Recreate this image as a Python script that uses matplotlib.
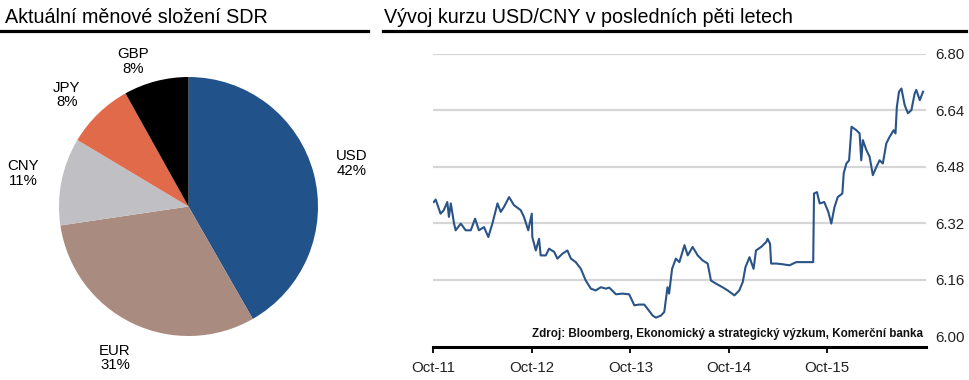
import matplotlib
matplotlib.use("Agg")
import matplotlib.pyplot as plt
import matplotlib.dates as mdates
from matplotlib.lines import Line2D
import numpy as np
import pandas as pd

plt.rcParams['font.family'] = ['Liberation Sans', 'DejaVu Sans']

# slozeni SDR (vahy v %)
currencies = ["USD", "EUR", "CNY", "JPY", "GBP"]
weights = [41.73, 30.93, 10.92, 8.33, 8.09]
pie_colors = ["#22528a", "#a98b7f", "#bfbfc4", "#e06a4a", "#000000"]

# kurz USD/CNY
dates = [
    "2011-10-04", "2011-10-11", "2011-10-29", "2011-11-10", "2011-11-23", "2011-11-29",
    "2011-12-06", "2011-12-18", "2011-12-24",
    "2012-01-12", "2012-01-30", "2012-02-18", "2012-03-05", "2012-03-19", "2012-04-07",
    "2012-04-23", "2012-05-08", "2012-05-27", "2012-06-08", "2012-06-20", "2012-07-09",
    "2012-07-27", "2012-08-21", "2012-09-02", "2012-09-18", "2012-10-01", "2012-10-03",
    "2012-10-16", "2012-10-28", "2012-11-03", "2012-11-22", "2012-12-04", "2012-12-23",
    "2013-01-04", "2013-01-23", "2013-02-10", "2013-02-23", "2013-03-13", "2013-04-01",
    "2013-04-19", "2013-05-08", "2013-05-26", "2013-06-14", "2013-07-03", "2013-07-15",
    "2013-08-09", "2013-09-02", "2013-09-27", "2013-10-16", "2013-11-03", "2013-11-22",
    "2013-12-04", "2013-12-23",
    "2014-01-04", "2014-01-23", "2014-02-04", "2014-02-16", "2014-02-22", "2014-03-05",
    "2014-03-19", "2014-04-01", "2014-04-20", "2014-05-02", "2014-05-20", "2014-06-08",
    "2014-06-26", "2014-07-15", "2014-07-27", "2014-08-15", "2014-09-08", "2014-09-27",
    "2014-10-22", "2014-11-09", "2014-11-22", "2014-12-02", "2014-12-17",
    "2015-01-01", "2015-01-10", "2015-01-29", "2015-02-17", "2015-02-22", "2015-03-03",
    "2015-03-07", "2015-03-26", "2015-04-19", "2015-05-14", "2015-06-08", "2015-07-02",
    "2015-08-10", "2015-08-13", "2015-08-24", "2015-09-03", "2015-09-20", "2015-10-05",
    "2015-10-16", "2015-10-28", "2015-11-09", "2015-11-26", "2015-12-01", "2015-12-11",
    "2015-12-21", "2015-12-30",
    "2016-01-17", "2016-01-29", "2016-02-04", "2016-02-10", "2016-02-23", "2016-03-06",
    "2016-03-18", "2016-03-31", "2016-04-12", "2016-04-24", "2016-05-07", "2016-05-19",
    "2016-06-03", "2016-06-10", "2016-06-15", "2016-06-23", "2016-07-02", "2016-07-14",
    "2016-07-26", "2016-08-08", "2016-08-20", "2016-08-26", "2016-09-08", "2016-09-20",
]
usdcny = [
    6.380, 6.387, 6.347, 6.357, 6.380, 6.338, 6.376, 6.319, 6.300,
    6.319, 6.300, 6.300, 6.333, 6.300, 6.309, 6.281, 6.319, 6.376, 6.352, 6.366, 6.394,
    6.371, 6.357, 6.338, 6.300, 6.347, 6.281, 6.243, 6.276, 6.229, 6.229, 6.248, 6.239,
    6.220, 6.234, 6.243, 6.220, 6.210, 6.191, 6.158, 6.135, 6.130, 6.139, 6.135, 6.138,
    6.119, 6.121, 6.119, 6.088, 6.090, 6.090, 6.078, 6.059,
    6.053, 6.059, 6.069, 6.139, 6.121, 6.191, 6.220, 6.210, 6.258, 6.229, 6.253, 6.229,
    6.215, 6.206, 6.158, 6.149, 6.139, 6.130, 6.116, 6.130, 6.154, 6.196, 6.224,
    6.191, 6.243, 6.253, 6.267, 6.276, 6.262, 6.206, 6.206, 6.204, 6.201, 6.210, 6.210,
    6.210, 6.404, 6.408, 6.376, 6.380, 6.352, 6.319, 6.366, 6.394, 6.404, 6.461, 6.489,
    6.498, 6.593,
    6.583, 6.574, 6.498, 6.555, 6.527, 6.508, 6.456, 6.479, 6.498, 6.489, 6.546, 6.564,
    6.583, 6.574, 6.649, 6.692, 6.701, 6.654, 6.631, 6.640, 6.687, 6.697, 6.668, 6.692,
]
y_ticks = [6.00, 6.16, 6.32, 6.48, 6.64, 6.80]
x_ticks = ["2011-10-01", "2012-10-01", "2013-10-01", "2014-10-01", "2015-10-01"]

W, H = 970, 380
fig = plt.figure(figsize=(W / 100, H / 100), dpi=100)

# nadpisy a linky pod nimi
fig.text(5 / W, 1 - 23 / H, "Aktuální měnové složení SDR", fontsize=14.2, va="baseline")
fig.text(384 / W, 1 - 23 / H, "Vývoj kurzu USD/CNY v posledních pěti letech", fontsize=14.2, va="baseline")
fig.add_artist(Line2D([0, 368 / W], [1 - 31 / H] * 2, color="black", lw=2.3))
fig.add_artist(Line2D([383 / W, 966 / W], [1 - 31 / H] * 2, color="black", lw=2.3))

# --- kolac ---
r_px = 129.5
half = 170
ax1 = fig.add_axes([(188.5 - half) / W, 1 - (206.5 + half) / H, 2 * half / W, 2 * half / H])
pct = ["%d%%" % round(w) for w in weights]
wedges, texts = ax1.pie(weights, colors=pie_colors, startangle=90, counterclock=False,
                        labels=[c + "\n" + p for c, p in zip(currencies, pct)],
                        labeldistance=1.3, textprops=dict(fontsize=10.8, ha="center", va="center",
                                                         linespacing=1.05))
# JPY a GBP jsou v originale trochu jinde
texts[3].set_position((-0.94, 0.86))
texts[4].set_position((-0.43, 1.12))
lim = half / r_px
ax1.set_xlim(-lim, lim)
ax1.set_ylim(-lim, lim)
ax1.set_aspect("equal")
ax1.axis("off")

# --- kurz ---
ax2 = fig.add_axes([433 / W, 1 - 347 / H, (926 - 433) / W, (347 - 53.5) / H])
d = pd.to_datetime(dates)
for t in y_ticks[1:]:
    ax2.axhline(t, color="#d6d6d6", lw=1.6, zorder=1)
ax2.plot(d, usdcny, color="#2a5388", lw=1.5, zorder=3)

ax2.set_xlim(pd.Timestamp("2011-10-01"), pd.Timestamp("2016-10-01"))
ax2.set_ylim(5.97, 6.80)
ax2.set_yticks(y_ticks)
ax2.set_yticklabels(["%.2f" % t for t in y_ticks])
ax2.yaxis.tick_right()
ax2.tick_params(axis="y", length=0, pad=7, labelsize=10.8, colors="#222222")
ax2.set_xticks(pd.to_datetime(x_ticks))
ax2.xaxis.set_major_formatter(mdates.DateFormatter("Oct-%y"))
ax2.tick_params(axis="x", direction="out", length=4, width=1.3, pad=6, labelsize=10.8,
                colors="black", labelcolor="#222222")
for s in ["top", "left", "right"]:
    ax2.spines[s].set_visible(False)
ax2.spines["bottom"].set_linewidth(2.2)

fig.text(923 / W, 1 - 337 / H, "Zdroj: Bloomberg, Ekonomický a strategický výzkum, Komerční banka",
         fontsize=8.4, fontweight="bold", ha="right", va="baseline", color="#111111")

fig.savefig("out.png", dpi=100)
